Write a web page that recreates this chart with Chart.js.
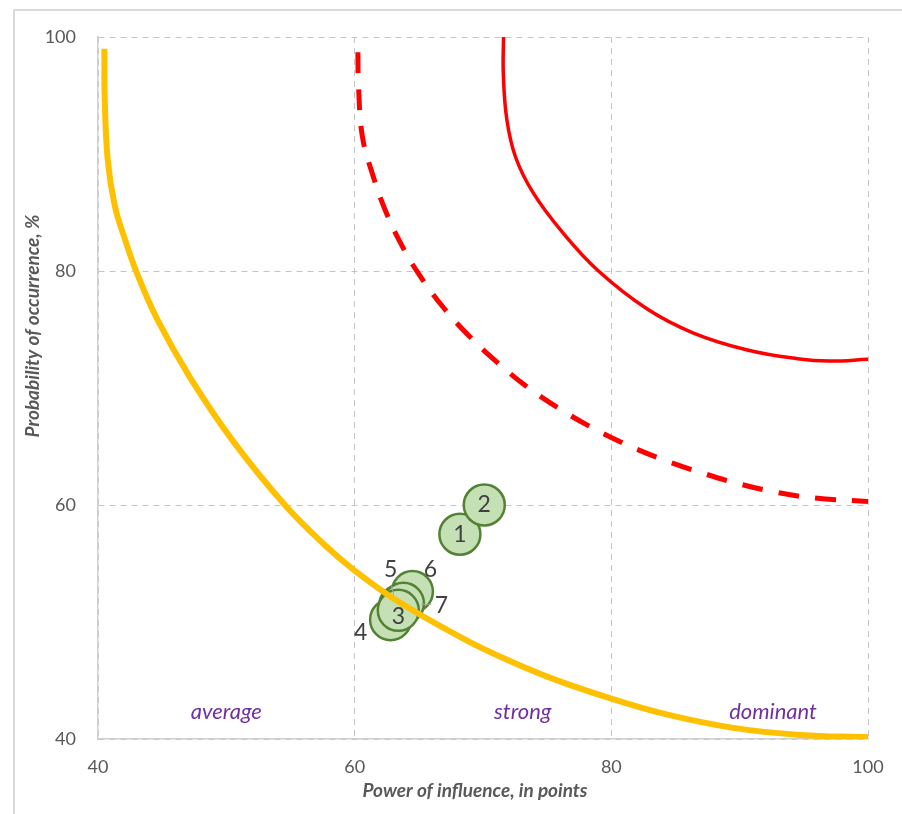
<!DOCTYPE html>
<html>

<head>
	<title>Power of influence</title>
	<script src="https://cdn.jsdelivr.net/npm/chart.js"></script>
	<style>
		body { margin: 0; background: #fff; }
		#wrap { position: relative; width: 902px; height: 814px; overflow: hidden; }
		#frame { position: absolute; left: 13px; top: 9px; width: 920px; height: 840px; border: 2px solid #dadada; }
		#myChartCanvas1 { position: absolute; left: 0; top: 0; }
	</style>
</head>

<body>
	<div id="wrap">
		<div id="frame"></div>
		<canvas id="myChartCanvas1" width="902" height="814"></canvas>
	</div>

<script>
	// ticks
	const axisTicks = [40, 60, 80, 100];

	// risks (bubbles), listed in drawing order
	const riskNames = ['1', '2', '6', '4', '5', '7', '3'];
	const riskPower = [68.2, 70.1, 64.5, 62.8, 63.5, 63.8, 63.4];
	const riskProb = [57.5, 60.0, 52.6, 50.2, 51.4, 51.6, 51.0];

	// boundary curves
	const avgX = [40.5, 40.52, 40.75, 41.3, 42.1, 43.0, 44.6, 47.2, 50.6, 54.6, 57.6, 60.0, 63.4, 68.5, 71.3, 75.2, 80.0, 84.3, 89.5, 94.7, 100];
	const avgY = [99.0, 95.0, 89.6, 85.6, 82.7, 79.9, 75.9, 70.85, 65.35, 59.95, 56.65, 54.4, 51.75, 48.55, 47.05, 45.25, 43.45, 42.1, 40.95, 40.35, 40.15];

	const strongX = [60.25, 60.3, 60.6, 61.4, 62.4, 63.5, 64.9, 66.9, 69.0, 71.2, 73.5, 76.0, 78.6, 81.3, 84.1, 86.9, 89.8, 92.8, 95.8, 100];
	const strongY = [98.7, 95.8, 91.5, 88.25, 85.15, 82.55, 79.9, 76.9, 74.35, 72.1, 70.05, 68.2, 66.55, 65.1, 63.85, 62.8, 61.85, 61.1, 60.6, 60.3];

	const domX = [71.6, 71.58, 71.85, 72.55, 73.9, 76.2, 79.0, 82.8, 86.4, 90.6, 94.5, 97.0, 100];
	const domY = [100, 97.0, 93.0, 89.7, 86.7, 83.3, 80.0, 76.75, 74.7, 73.25, 72.5, 72.3, 72.45];

	// zone captions
	const zoneNames = ['average', 'strong', 'dominant'];
	const zoneCentres = [50, 73.1, 92.6];
	const zoneLevel = 42.35;

	function pts(xs, ys) {
		var out = [];
		for (var i = 0; i < xs.length; i++) out.push({ x: xs[i], y: ys[i] });
		return out;
	}

	var bubbles = [];
	for (var i = 0; i < riskNames.length; i++) {
		bubbles.push({ x: riskPower[i], y: riskProb[i], r: 20.5 });
	}

	// label offsets in pixels from the bubble centre (style only)
	const labelOffset = {
		'1': [0, 0], '2': [0, 0], '3': [0, 6], '4': [-30, 13],
		'5': [-9, -36], '6': [18, -22], '7': [38, 2]
	};

	const txtFont = 'Lato, "Open Sans", sans-serif';

	const overlay = {
		id: 'overlay',
		afterDatasetsDraw(chart) {
			const ctx = chart.ctx;
			const xs = chart.scales.x, ys = chart.scales.y;
			ctx.save();

			// leader lines
			ctx.strokeStyle = '#a6a6a6';
			ctx.lineWidth = 1;
			for (var i = 0; i < riskNames.length; i++) {
				var cx = xs.getPixelForValue(riskPower[i]);
				var cy = ys.getPixelForValue(riskProb[i]);
				if (riskNames[i] == '5') {
					ctx.beginPath(); ctx.moveTo(cx - 8, cy - 20); ctx.lineTo(cx - 6, cy - 11); ctx.stroke();
				}
				if (riskNames[i] == '7') {
					ctx.beginPath(); ctx.moveTo(cx + 28, cy + 1); ctx.lineTo(cx + 18, cy + 1); ctx.stroke();
				}
			}

			// bubble numbers
			ctx.fillStyle = '#404040';
			ctx.font = '23px ' + txtFont;
			ctx.textAlign = 'center';
			ctx.textBaseline = 'middle';
			for (var i = 0; i < riskNames.length; i++) {
				var off = labelOffset[riskNames[i]];
				ctx.fillText(riskNames[i],
					xs.getPixelForValue(riskPower[i]) + off[0],
					ys.getPixelForValue(riskProb[i]) + off[1]);
			}

			// zone captions
			ctx.fillStyle = '#7030a0';
			ctx.font = 'italic 22px ' + txtFont;
			for (var j = 0; j < zoneNames.length; j++) {
				ctx.fillText(zoneNames[j], xs.getPixelForValue(zoneCentres[j]), ys.getPixelForValue(zoneLevel));
			}

			// axis titles
			ctx.fillStyle = '#595959';
			ctx.font = 'italic bold 19px ' + txtFont;
			ctx.fillText('Power of influence, in points', 475, 791);
			ctx.translate(33, 326);
			ctx.rotate(-Math.PI / 2);
			ctx.fillText('Probability of occurrence, %', 0, 0);
			ctx.restore();
		}
	};

	function setTicks(scale) {
		scale.ticks = axisTicks.map(function (v) { return { value: v }; });
	}

	const gridOpts = {
		color: '#c4c4c4',
		lineWidth: 1,
		drawTicks: false
	};

	const config = {
		type: 'scatter',
		data: {
			datasets: [
				{
					label: 'average',
					type: 'line',
					data: pts(avgX, avgY),
					borderColor: '#ffc000',
					borderWidth: 6,
					pointRadius: 0,
					tension: 0.4,
					order: 1
				},
				{
					label: 'risks',
					type: 'bubble',
					data: bubbles,
					backgroundColor: '#c5e0b4',
					borderColor: '#548235',
					borderWidth: 2.5,
					order: 2
				},
				{
					label: 'strong',
					type: 'line',
					data: pts(strongX, strongY),
					borderColor: '#ff0000',
					borderWidth: 5,
					borderDash: [21, 16],
					pointRadius: 0,
					tension: 0.4,
					order: 3
				},
				{
					label: 'dominant',
					type: 'line',
					data: pts(domX, domY),
					borderColor: '#ff0000',
					borderWidth: 3.5,
					pointRadius: 0,
					tension: 0.4,
					order: 3
				}
			]
		},
		options: {
			responsive: false,
			animation: false,
			events: [],
			layout: { padding: { left: 0, top: 37, right: 34, bottom: 0 } },
			plugins: { legend: { display: false }, tooltip: { enabled: false } },
			scales: {
				x: {
					type: 'linear',
					min: 40, max: 100,
					afterBuildTicks: setTicks,
					afterFit: function (s) { s.height = 75; },
					grid: gridOpts,
					border: { display: true, color: '#d0d0d0', width: 1.5, dash: [6, 5] },
					ticks: { color: '#595959', font: { family: txtFont, size: 18 }, padding: 17, maxRotation: 0 }
				},
				y: {
					type: 'linear',
					min: 40, max: 100,
					afterBuildTicks: setTicks,
					afterFit: function (s) { s.width = 98; },
					grid: gridOpts,
					border: { display: true, color: '#d0d0d0', width: 1.5, dash: [6, 5] },
					ticks: { color: '#595959', font: { family: txtFont, size: 18 }, padding: 22 }
				}
			}
		},
		plugins: [overlay]
	};

	let myChart = new Chart(document.getElementById('myChartCanvas1'), config);
</script>
</body>

</html>
